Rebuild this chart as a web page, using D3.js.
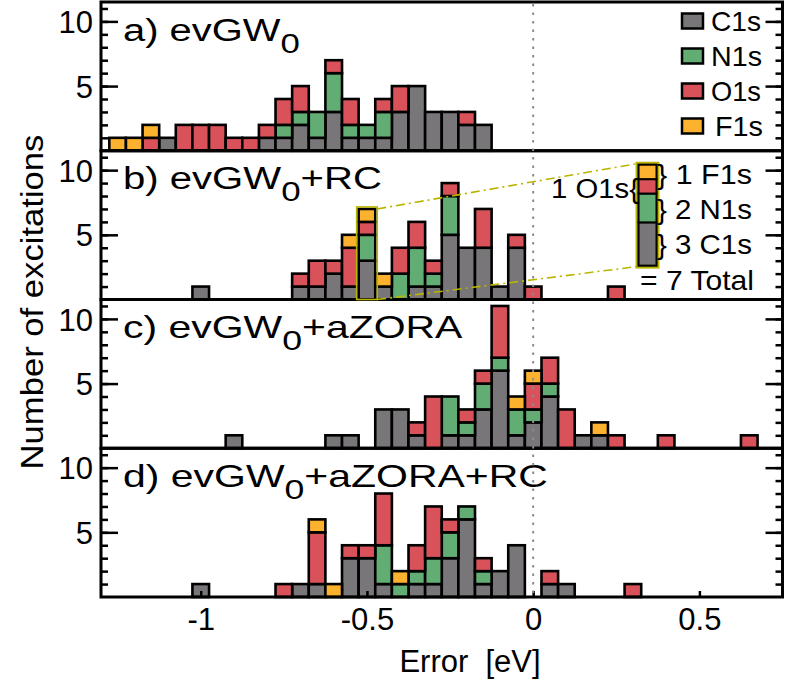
<!DOCTYPE html>
<html><head><meta charset="utf-8">
<script src="https://cdn.jsdelivr.net/npm/d3@7"></script>
<style>
body{margin:0;background:#fff}
svg{display:block}
text{font-family:"Liberation Sans",Arial,Helvetica,sans-serif;fill:#000}
</style>
</head><body><div id="chart"></div>
<script>
// ---------------- data ----------------
const xDomain = [-1.3, 0.75];
const yMax = 11.5;
const binWidth = 0.05;
const xTickValues = [-1, -0.5, 0, 0.5];
const xTickLabels = ["-1", "-0.5", "0", "0.5"];
const yMinorTicks = [1,2,3,4,5,6,7,8,9,10,11];
const yMajorTicks = [5, 10];
const yTickLabels = ["5", "10"];
const species = ["C1s", "N1s", "O1s", "F1s"];
const speciesColors = ["#787679", "#62ad74", "#d9525a", "#fdb22f"];
const panelNames = ["a) evGW", "b) evGW", "c) evGW", "d) evGW"];
const panelSubs = ["0", "0", "0", "0"];
const panelSuffixes = ["", "+RC", "+aZORA", "+aZORA+RC"];
const xTitle = "Error\u00a0\u00a0[eV]";
const yTitle = "Number of excitations";

// a) evGW0
const binsA = [-1.25,-1.20,-1.15,-1.10,-1.05,-1.00,-0.95,-0.90,-0.85,-0.80,-0.75,-0.70,-0.65,-0.60,-0.55,-0.50,-0.45,-0.40,-0.35,-0.30,-0.25,-0.20,-0.15];
const c1sA  = [0,0,0,1,0,0,0,0,0,1,1,2,1,3,1,1,1,3,5,3,3,2,2];
const n1sA  = [0,0,0,0,0,0,0,0,0,0,1,1,2,3,1,1,2,0,0,0,0,0,0];
const o1sA  = [0,0,1,0,2,2,2,1,1,1,2,2,0,1,2,0,1,2,0,0,0,1,0];
const f1sA  = [1,1,1,0,0,0,0,0,0,0,0,0,0,0,0,0,0,0,0,0,0,0,0];
// b) evGW0+RC
const binsB = [-1.00,-0.70,-0.65,-0.60,-0.55,-0.50,-0.45,-0.40,-0.35,-0.30,-0.25,-0.20,-0.15,-0.10,-0.05,0.00,0.25];
const c1sB  = [1,1,1,2,1,3,1,0,1,1,5,4,4,1,4,0,0];
const n1sB  = [0,0,0,0,0,2,0,2,3,1,3,0,0,0,0,0,0];
const o1sB  = [0,1,2,1,3,1,0,2,2,1,1,0,3,0,1,1,1];
const f1sB  = [0,0,0,0,1,1,1,0,0,0,0,0,0,0,0,0,0];
// c) evGW0+aZORA
const binsC = [-0.90,-0.60,-0.55,-0.45,-0.40,-0.35,-0.30,-0.25,-0.20,-0.15,-0.10,-0.05,0.00,0.05,0.10,0.15,0.20,0.25,0.40,0.65];
const c1sC  = [1,1,1,3,3,1,0,1,1,3,6,1,2,4,0,1,1,0,0,0];
const n1sC  = [0,0,0,0,0,0,0,3,1,2,1,2,1,1,0,0,0,0,0,0];
const o1sC  = [0,0,0,0,0,1,4,0,1,1,4,0,2,2,3,0,0,1,1,1];
const f1sC  = [0,0,0,0,0,0,0,0,0,0,0,1,1,0,0,0,1,0,0,0];
// d) evGW0+aZORA+RC
const binsD = [-1.00,-0.75,-0.70,-0.65,-0.60,-0.55,-0.50,-0.45,-0.40,-0.35,-0.30,-0.25,-0.20,-0.15,-0.10,-0.05,0.05,0.10,0.30];
const c1sD  = [1,0,1,1,0,3,3,1,0,1,1,3,6,1,2,4,1,1,0];
const n1sD  = [0,0,0,0,0,0,0,3,1,1,2,2,1,1,0,0,0,0,0];
const o1sD  = [0,1,0,4,0,1,1,4,0,2,4,1,0,1,0,0,1,0,1];
const f1sD  = [0,0,0,1,1,0,0,0,1,0,0,0,0,0,0,0,0,0,0];

// callout annotation (panel b)
const calloutPanel = 1;
const calloutBin = -0.50;
const calloutRightTexts = ["} 1 F1s", "} 2 N1s", "} 3 C1s"];
const calloutLeftText = "1 O1s{";
const calloutTotalText = "= 7 Total";

// ---------------- layout ----------------
const W = 789, H = 688;
const L = 101, R = 782.5, T = 2, B = 597;
const PH = (B - T) / 4;
const olive = "#b9b400";

const panels = [
  {bins: binsA, C1s: c1sA, N1s: n1sA, O1s: o1sA, F1s: f1sA},
  {bins: binsB, C1s: c1sB, N1s: n1sB, O1s: o1sB, F1s: f1sB},
  {bins: binsC, C1s: c1sC, N1s: n1sC, O1s: o1sC, F1s: f1sC},
  {bins: binsD, C1s: c1sD, N1s: n1sD, O1s: o1sD, F1s: f1sD}
];
const color = d3.scaleOrdinal().domain(species).range(speciesColors);

const svg = d3.select("#chart").append("svg").attr("width", W).attr("height", H);
const x = d3.scaleLinear().domain(xDomain).range([L, R]);

function fitText(sel, x0, y0, targetW, anchor, extra) {
  sel.attr("x", 0).attr("y", 0).attr("text-anchor", anchor || "start");
  const w = sel.node().getBBox().width;
  const k = targetW ? targetW / w : 1;
  sel.attr("transform", `translate(${x0},${y0}) ${extra || ""} scale(${k},1)`);
}

const panelLabelEnds = [300, 382, 463, 548];
const yScales = [];

panels.forEach((p, i) => {
  const top = T + i * PH;
  const y = d3.scaleLinear().domain([0, yMax]).range([top + PH, top]);
  yScales.push(y);
  const g = svg.append("g");

  // ticks (inward) left and right
  g.append("g").attr("transform", `translate(${L},0)`)
    .call(d3.axisLeft(y).tickValues(yMinorTicks).tickSize(-7).tickFormat(""))
    .call(a => { a.select(".domain").remove(); a.selectAll("line").attr("stroke-width", 2.5); });
  g.append("g").attr("transform", `translate(${R},0)`)
    .call(d3.axisRight(y).tickValues(yMinorTicks).tickSize(-7).tickFormat(""))
    .call(a => { a.select(".domain").remove(); a.selectAll("line").attr("stroke-width", 2.5); });
  g.append("g").attr("transform", `translate(${L},0)`)
    .call(d3.axisLeft(y).tickValues(yMajorTicks).tickSize(-17).tickPadding(8)
      .tickFormat((d, j) => yTickLabels[j]))
    .call(a => {
      a.select(".domain").remove();
      a.selectAll("line").attr("stroke-width", 2.5);
      a.selectAll("text").attr("font-size", 31).attr("font-family", '"Liberation Sans",Arial,sans-serif')
        .attr("fill", "#000").attr("dy", "0.36em");
    });
  g.append("g").attr("transform", `translate(${R},0)`)
    .call(d3.axisRight(y).tickValues(yMajorTicks).tickSize(-17).tickFormat(""))
    .call(a => { a.select(".domain").remove(); a.selectAll("line").attr("stroke-width", 2.5); });

  // stacked bars
  const rows = p.bins.map((b, j) => ({bin: b, C1s: p.C1s[j], N1s: p.N1s[j], O1s: p.O1s[j], F1s: p.F1s[j]}));
  const stacked = d3.stack().keys(species)(rows);
  stacked.forEach(layer => {
    g.selectAll(null).data(layer.filter(d => d[1] > d[0])).join("rect")
      .attr("x", d => x(d.data.bin - binWidth / 2))
      .attr("width", d => x(d.data.bin + binWidth / 2) - x(d.data.bin - binWidth / 2))
      .attr("y", d => y(d[1]))
      .attr("height", d => y(d[0]) - y(d[1]))
      .attr("fill", color(layer.key))
      .attr("stroke", "#000").attr("stroke-width", 2.6);
  });

  // panel label
  const t = g.append("text").attr("font-size", 31);
  t.append("tspan").text(panelNames[i]);
  t.append("tspan").attr("font-size", 27).attr("dy", 12).text(panelSubs[i]);
  if (panelSuffixes[i]) t.append("tspan").attr("dy", -12).text(panelSuffixes[i]);
  fitText(t, 123, top + 38.5, panelLabelEnds[i] - 123, "start");

  // frame
  g.append("rect").attr("x", L).attr("y", top).attr("width", R - L).attr("height", PH)
    .attr("fill", "none").attr("stroke", "#000").attr("stroke-width", 3);
});

// bottom x axis
svg.append("g").attr("transform", `translate(0,${B})`)
  .call(d3.axisBottom(x).tickValues(xTickValues).tickSize(-6).tickPadding(11)
    .tickFormat((d, j) => xTickLabels[j]))
  .call(a => {
    a.select(".domain").remove();
    a.selectAll("line").attr("stroke-width", 2.5);
    a.selectAll("text").attr("font-size", 31).attr("font-family", '"Liberation Sans",Arial,sans-serif').attr("fill", "#000");
  });

// zero dotted line
svg.append("line").attr("x1", x(0)).attr("x2", x(0)).attr("y1", T + 2).attr("y2", B - 2)
  .attr("stroke", "#8c8c8c").attr("stroke-width", 2).attr("stroke-dasharray", "2.5,6");

// axis titles
const xt = svg.append("text").attr("font-size", 31).text(xTitle);
fitText(xt, 470, 672, null, "middle");
const yt = svg.append("text").attr("font-size", 32).text(yTitle);
fitText(yt, 43, 302, 335, "middle", "rotate(-90)");

// legend
const legendRowsY = [21, 56, 91, 126];
const legendTextW = [50, 51, 50, 48];
const lg = svg.append("g");
species.forEach((s, i) => {
  lg.append("rect").attr("x", 682).attr("y", legendRowsY[i] - 7.5).attr("width", 21).attr("height", 15)
    .attr("fill", color(s)).attr("stroke", "#000").attr("stroke-width", 2.5);
  const tt = lg.append("text").attr("font-size", 27).text(s);
  fitText(tt, s === "F1s" ? 715 : 711, legendRowsY[i] + 9.5, legendTextW[i], "start");
});

// callout in panel b
(function () {
  const yb = yScales[calloutPanel];
  const p = panels[calloutPanel];
  const j = p.bins.indexOf(calloutBin);
  const counts = species.map(s => p[s][j]);
  const total = d3.sum(counts);
  const g = svg.append("g");
  const bx0 = x(calloutBin - binWidth / 2), bx1 = x(calloutBin + binWidth / 2);
  g.append("rect").attr("x", bx0 - 2).attr("y", yb(total) - 2).attr("width", bx1 - bx0 + 4)
    .attr("height", yb(0) - yb(total) + 2).attr("fill", "none").attr("stroke", olive).attr("stroke-width", 1.6);
  const ix0 = x(0.317), ix1 = x(0.371);
  const iy = d3.scaleLinear().domain([0, total]).range([yb(2.62), yb(10.42)]);
  g.append("line").attr("x1", bx1 + 2).attr("y1", yb(total)).attr("x2", ix0 - 2).attr("y2", iy(total) - 1)
    .attr("stroke", olive).attr("stroke-width", 1.6).attr("stroke-dasharray", "9,4,2,4");
  g.append("line").attr("x1", bx1 + 2).attr("y1", yb(0)).attr("x2", ix0 - 2).attr("y2", iy(0) + 1)
    .attr("stroke", olive).attr("stroke-width", 1.6).attr("stroke-dasharray", "9,4,2,4");
  g.append("rect").attr("x", ix0 - 2).attr("y", iy(total) - 2).attr("width", ix1 - ix0 + 4)
    .attr("height", iy(0) - iy(total) + 4).attr("fill", "#6f6d30").attr("stroke", olive).attr("stroke-width", 2);
  let acc = 0;
  species.forEach((s, k) => {
    const c = counts[k];
    if (!c) return;
    g.append("rect").attr("x", ix0).attr("width", ix1 - ix0)
      .attr("y", iy(acc + c)).attr("height", iy(acc) - iy(acc + c))
      .attr("fill", color(s)).attr("stroke", "#000").attr("stroke-width", 2);
    acc += c;
  });
  const rightRowsY = [184, 219, 254];
  calloutRightTexts.forEach((s, k) => {
    const tt = g.append("text").attr("font-size", 28).text(s);
    fitText(tt, 657, rightRowsY[k], 95, "start");
  });
  const lt = g.append("text").attr("font-size", 28).text(calloutLeftText);
  fitText(lt, 551, 198, 88, "start");
  const tt2 = g.append("text").attr("font-size", 28).text(calloutTotalText);
  fitText(tt2, 640, 290, 114, "start");
})();
</script>
</body></html>
